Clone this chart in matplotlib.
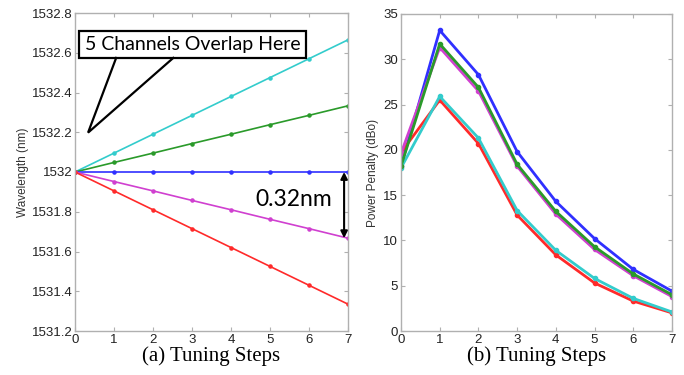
import numpy as np
import matplotlib
matplotlib.use("Agg")
import matplotlib.pyplot as plt
from matplotlib.patches import Rectangle

steps = np.arange(8)

# (a) wavelength per channel, nm
wl_cyan = [1532.0, 1532.095, 1532.19, 1532.285, 1532.38, 1532.475, 1532.57, 1532.665]
wl_green = [1532.0, 1532.048, 1532.095, 1532.143, 1532.19, 1532.238, 1532.285, 1532.333]
wl_blue = [1532.0, 1532.0, 1532.0, 1532.0, 1532.0, 1532.0, 1532.0, 1532.0]
wl_magenta = [1532.0, 1531.952, 1531.905, 1531.857, 1531.81, 1531.762, 1531.715, 1531.667]
wl_red = [1532.0, 1531.905, 1531.81, 1531.715, 1531.62, 1531.525, 1531.43, 1531.335]

# (b) power penalty per channel, dBo
pp_blue = [18.2, 33.2, 28.3, 19.8, 14.3, 10.2, 6.8, 4.4]
pp_green = [18.2, 31.7, 26.9, 18.4, 13.2, 9.3, 6.3, 4.0]
pp_magenta = [19.6, 31.3, 26.5, 18.2, 12.9, 9.0, 6.1, 3.8]
pp_cyan = [18.0, 25.9, 21.3, 13.3, 8.9, 5.8, 3.6, 2.1]
pp_red = [19.7, 25.5, 20.7, 12.8, 8.4, 5.3, 3.3, 2.0]

c_cyan = "#33cccc"
c_green = "#2a9a2a"
c_blue = "#3030ff"
c_magenta = "#d040d0"
c_red = "#ff2a2a"

plt.rcParams["font.family"] = ["Liberation Sans", "DejaVu Sans"]

fig = plt.figure(figsize=(6.84, 3.75), dpi=100)
ax1 = fig.add_axes([75 / 684, 44 / 375, 273 / 684, 318 / 375])
ax2 = fig.add_axes([401 / 684, 44 / 375, 271 / 684, 317 / 375])


def style(ax):
    for s in ax.spines.values():
        s.set_color("#b0b0b0")
        s.set_linewidth(1.0)
    ax.tick_params(direction="in", top=True, right=True, length=3,
                   color="#b0b0b0", labelcolor="#222222", labelsize=9.5, pad=2)


# ---- (a) ----
for y, c in [(wl_cyan, c_cyan), (wl_green, c_green), (wl_blue, c_blue),
             (wl_magenta, c_magenta), (wl_red, c_red)]:
    ax1.plot(steps, y, color=c, lw=1.2, marker=".", ms=4.5)
ax1.set_xlim(0, 7)
ax1.set_ylim(1531.2, 1532.8)
ax1.set_xticks(range(8))
ax1.set_yticks([1531.2, 1531.4, 1531.6, 1531.8, 1532.0, 1532.2, 1532.4, 1532.6, 1532.8])
ax1.set_yticklabels(["1531.2", "1531.4", "1531.6", "1531.8", "1532",
                     "1532.2", "1532.4", "1532.6", "1532.8"])
ax1.set_ylabel("Wavelength (nm)", fontsize=8.5, color="#333333", labelpad=2)
ax1.set_xlabel("(a) Tuning Steps", fontsize=15, family="Liberation Serif", labelpad=0)
style(ax1)

# callout box
ax1.add_patch(Rectangle((0.10, 1532.574), 5.82, 0.136, fc="white", ec="black",
                        lw=1.6, zorder=5, clip_on=False))
ax1.text(3.01, 1532.642, "5 Channels Overlap Here", fontsize=14, family="Lato",
         ha="center", va="center", zorder=6)
ax1.plot([1.055, 0.335, 2.52], [1532.574, 1532.198, 1532.574], color="black",
         lw=1.6, zorder=5, solid_joinstyle="miter")

# spacing arrow
ax1.annotate("", xy=(6.9, wl_magenta[-1]), xytext=(6.9, wl_blue[-1]),
             arrowprops=dict(arrowstyle="<|-|>", color="black", lw=1.5,
                             shrinkA=0, shrinkB=0, mutation_scale=10))
ax1.text(4.62, 1531.86, "0.32nm", fontsize=16.5, family="Lato", ha="left", va="center")

# ---- (b) ----
for y, c in [(pp_blue, c_blue), (pp_red, c_red), (pp_cyan, c_cyan),
             (pp_magenta, c_magenta), (pp_green, c_green)]:
    ax2.plot(steps, y, color=c, lw=2.0, marker=".", ms=6)
ax2.set_xlim(0, 7)
ax2.set_ylim(0, 35)
ax2.set_xticks(range(8))
ax2.set_yticks(range(0, 36, 5))
ax2.set_ylabel("Power Penalty (dBo)", fontsize=8.5, color="#333333", labelpad=3)
ax2.set_xlabel("(b) Tuning Steps", fontsize=15, family="Liberation Serif", labelpad=0)
style(ax2)

fig.savefig("out.png", dpi=100)
